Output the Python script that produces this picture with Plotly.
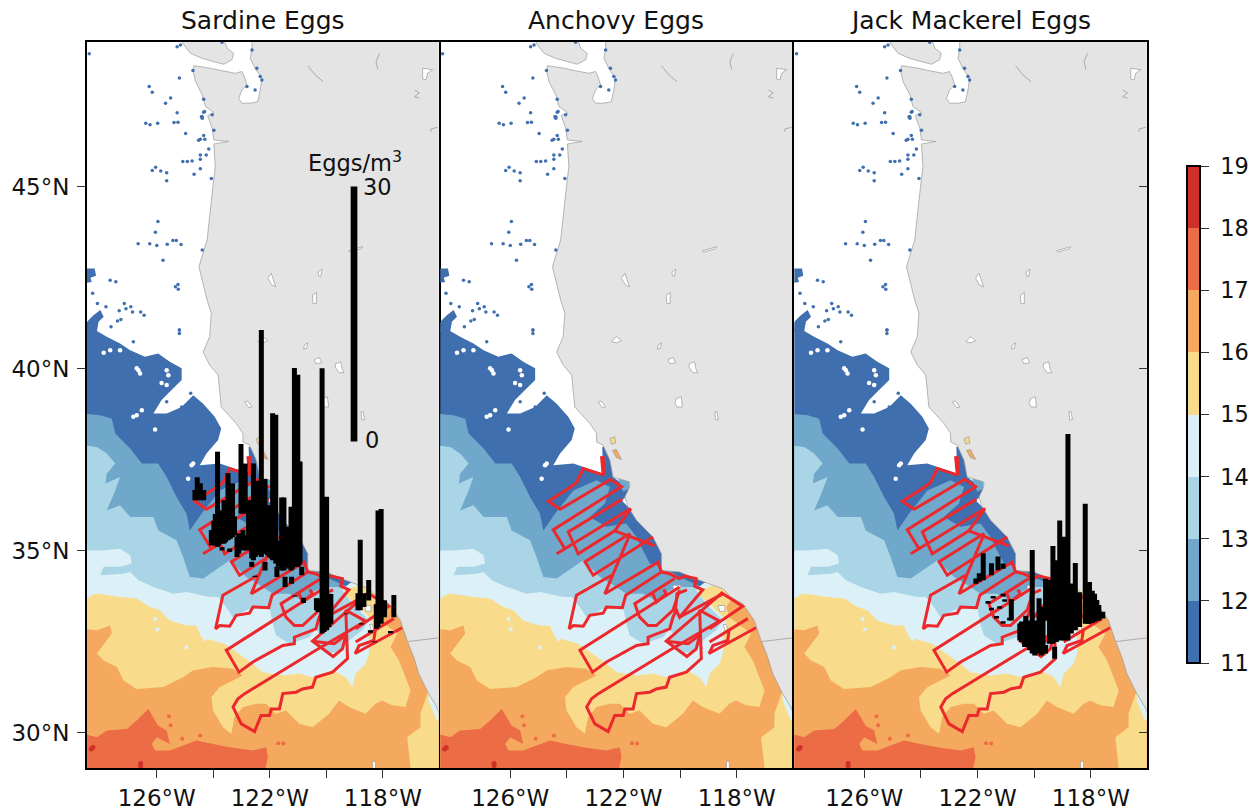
import plotly.graph_objects as go

# sst bands, lowest first, each one painted over the one before (lon, lat)
sst_levels = [11, 12, 13, 14, 15, 16, 17, 18, 19]
sst_labels = ['\u00a011', '\u00a012', '\u00a013', '\u00a014', '\u00a015', '\u00a016', '\u00a017', '\u00a018', '\u00a019']
sst_colors = ['#3f6fae', '#6fa8ca', '#a9d5e6', '#dcf1f7', '#f8dc8c', '#f4a95e', '#ec6c46', '#cf3128']

band_11 = [(-128.6, 41.10), (-128.18, 41.06), (-127.77, 40.88), (-127.30, 40.69), (-126.94, 40.51), (-126.42, 40.33),
           (-125.95, 40.42), (-125.54, 40.19), (-125.12, 40.01), (-125.12, 39.69), (-125.54, 39.37), (-125.83, 39.14),
           (-126.12, 38.77), (-125.65, 38.77), (-125.12, 38.95), (-124.71, 39.27), (-124.36, 39.04), (-123.95, 38.68),
           (-123.72, 38.36), (-123.83, 38.04), (-124.24, 37.67), (-124.48, 37.35), (-123.77, 37.40), (-123.25, 37.26),
           (-122.72, 37.12), (-122.75, 37.85), (-122.48, 37.85), (-122.42, 37.53), (-122.37, 37.03), (-121.72, 36.66),
           (-121.90, 36.48), (-122.07, 36.39), (-121.78, 36.16), (-120.96, 35.47), (-115.6, 32.73), (-115.6, 28.9), (-128.6, 28.9)]
band_12 = [(-128.6, 38.77), (-128.0, 38.72), (-127.59, 38.63), (-127.47, 38.22), (-126.94, 37.81), (-126.53, 37.40),
           (-125.95, 37.40), (-125.65, 37.03), (-125.30, 36.48), (-124.95, 36.02), (-124.83, 35.56), (-124.42, 36.02),
           (-123.77, 36.66), (-122.95, 36.94), (-122.48, 36.75), (-122.66, 36.30), (-123.19, 35.93), (-122.60, 35.66),
           (-121.90, 35.75), (-121.54, 35.38), (-121.31, 35.01), (-121.07, 34.65), (-120.60, 34.56), (-120.02, 34.28),
           (-115.6, 32.73), (-115.6, 28.9), (-128.6, 28.9)]
monterey_patch = [(-122.19, 36.98), (-121.80, 36.94), (-121.78, 36.71), (-122.01, 36.62)]
band_13 = [(-128.6, 37.90), (-128.12, 37.85), (-127.77, 37.67), (-127.47, 37.40), (-127.77, 37.12), (-127.82, 36.85),
           (-127.30, 37.03), (-127.47, 36.66), (-127.77, 36.11), (-127.30, 36.25), (-126.94, 35.93), (-126.12, 35.93),
           (-125.95, 35.56), (-125.30, 35.29), (-125.07, 34.83), (-124.83, 34.28), (-124.36, 34.24), (-123.77, 34.56),
           (-123.42, 34.74), (-122.83, 34.28), (-122.25, 34.01), (-121.90, 33.82), (-121.31, 33.82), (-120.84, 33.64),
           (-120.37, 33.92), (-120.02, 34.01), (-119.43, 34.01), (-119.08, 34.10), (-117.9, 34.56), (-115.6, 32.73),
           (-115.6, 28.9), (-128.6, 28.9)]
band_14 = [(-128.6, 35.01), (-128.0, 35.01), (-127.30, 35.06), (-126.94, 34.88), (-126.89, 34.65), (-127.30, 34.56),
           (-127.88, 34.56), (-128.0, 34.33), (-127.18, 34.37), (-126.94, 34.42), (-126.65, 34.19), (-126.12, 34.01),
           (-125.42, 33.82), (-124.95, 33.87), (-124.13, 33.73), (-123.83, 33.73), (-123.54, 33.46), (-123.31, 33.18),
           (-122.72, 33.41), (-122.01, 33.46), (-121.90, 33.00), (-121.78, 32.68), (-121.31, 32.45), (-120.60, 32.63),
           (-120.37, 32.86), (-120.25, 32.73), (-120.49, 32.54), (-119.90, 32.18), (-119.43, 32.27), (-119.20, 32.54),
           (-118.73, 32.82), (-118.49, 33.09), (-119.08, 33.55), (-119.43, 33.92), (-119.20, 34.10), (-117.9, 34.56),
           (-115.6, 32.73), (-115.6, 28.9), (-128.6, 28.9)]
band_15 = [(-128.6, 33.64), (-128.18, 33.82), (-127.88, 33.80), (-127.30, 33.73), (-126.71, 33.69), (-126.24, 33.46),
           (-125.89, 33.37), (-125.54, 33.09), (-124.95, 32.95), (-124.60, 32.95), (-124.42, 32.63), (-123.77, 32.50),
           (-123.60, 32.45), (-122.95, 32.09), (-122.60, 31.90), (-122.25, 31.67), (-121.54, 31.58), (-120.96, 31.63),
           (-120.49, 31.53), (-119.78, 31.72), (-119.31, 31.53), (-119.08, 31.26), (-118.96, 31.63), (-118.61, 31.90),
           (-118.49, 32.18), (-118.49, 32.73), (-118.37, 33.09), (-118.73, 33.37), (-119.31, 33.78), (-119.37, 33.92),
           (-118.61, 34.10), (-115.6, 32.73), (-115.6, 28.9), (-128.6, 28.9)]
band_16 = [(-128.6, 32.86), (-128.12, 32.82), (-127.65, 32.95), (-127.59, 32.73), (-128.12, 32.18), (-127.88, 31.99),
           (-127.41, 31.81), (-127.18, 31.44), (-126.71, 31.21), (-125.77, 31.26), (-125.07, 31.53), (-124.71, 31.72),
           (-124.01, 31.81), (-123.31, 31.76), (-122.95, 31.58), (-123.77, 31.26), (-124.07, 30.98), (-124.01, 30.62),
           (-123.66, 30.16), (-123.36, 29.98), (-123.25, 30.44), (-122.95, 30.71), (-122.48, 30.80), (-122.13, 30.80),
           (-121.78, 30.53), (-121.43, 30.62), (-120.96, 30.25), (-120.49, 30.16), (-119.90, 30.53), (-119.55, 30.89),
           (-119.20, 30.71), (-118.61, 30.53), (-118.26, 30.80), (-118.02, 30.89), (-117.67, 30.76), (-117.2, 30.71),
           (-117.02, 31.17), (-117.20, 31.53), (-117.43, 31.99), (-117.73, 32.36), (-117.49, 32.73), (-118.26, 33.18),
           (-118.37, 33.46), (-118.14, 33.73), (-115.6, 33.64), (-115.6, 28.9), (-128.6, 28.9)]
baja_yellow = [(-117.02, 28.9), (-117.02, 29.06), (-117.14, 29.88), (-116.67, 30.16), (-116.67, 30.53), (-116.5, 30.89),
               (-116.38, 31.17), (-115.6, 31.17), (-115.6, 28.9)]
baja_pale = [(-116.38, 31.17), (-116.38, 30.89), (-116.09, 30.34), (-115.6, 30.34), (-115.6, 31.35)]
band_17 = [(-128.6, 29.98), (-128.12, 29.88), (-127.77, 30.07), (-127.06, 30.11), (-126.71, 30.34), (-126.30, 30.66),
           (-125.95, 30.20), (-125.65, 30.07), (-125.54, 29.70), (-126.0, 29.88), (-126.18, 29.70), (-126.06, 29.52),
           (-125.54, 29.52), (-125.07, 29.66), (-124.60, 29.79), (-124.01, 29.70), (-123.42, 29.61), (-122.60, 29.52),
           (-122.13, 29.61), (-122.07, 29.33), (-122.19, 28.9), (-128.6, 28.9)]
spots_17 = [(-125.57, 30.46), (-125.51, 30.21), (-125.1, 29.84), (-124.46, 29.93), (-121.52, 29.71), (-121.7, 29.72)]
spots_18 = [(-126.57, 29.16), (-126.57, 29.10), (-128.26, 29.6), (-128.32, 29.56)]
spots_14 = [(-126.06, 33.13), (-125.98, 32.85), (-124.95, 32.35), (-124.30, 32.58)]

# sst specks off the main edges
blue_patch_a = [(-128.6, 41.15), (-128.41, 41.34), (-128.24, 41.47), (-128.0, 41.61), (-127.88, 41.43), (-128.06, 41.29), (-128.12, 41.02), (-128.6, 41.02)]
blue_patch_b = [(-128.6, 42.75), (-128.2, 42.75), (-128.15, 42.55), (-128.35, 42.5), (-128.3, 42.38), (-128.6, 42.35)]
blue_dots = [(-128.39, 48.65), (-126.27, 47.75), (-126.16, 47.59), (-125.51, 47.43), (-125.69, 47.29), (-125.20, 47.98),
             (-124.72, 48.19), (-124.34, 47.40), (-125.28, 47.03), (-124.31, 47.06), (-124.42, 46.92), (-124.39, 46.88),
             (-126.39, 46.74), (-126.24, 46.70), (-125.97, 46.74), (-125.39, 46.76), (-125.25, 46.77), (-124.98, 46.46),
             (-124.46, 46.30), (-124.34, 46.40), (-124.30, 46.30), (-124.52, 46.27), (-124.46, 45.87), (-124.46, 45.75),
             (-124.25, 45.87), (-124.16, 46.03), (-125.08, 45.69), (-124.92, 45.69), (-124.75, 45.70), (-126.16, 45.44),
             (-126.04, 45.53), (-125.86, 45.43), (-125.65, 45.38), (-125.65, 45.16), (-124.46, 45.49), (-124.68, 45.34),
             (-124.07, 45.22), (-125.96, 44.04), (-126.05, 43.75), (-126.66, 43.43), (-126.25, 43.43), (-126.0, 43.38),
             (-125.63, 43.42), (-125.43, 43.52), (-125.31, 43.52), (-125.14, 43.41), (-124.39, 43.26), (-125.78, 42.98),
             (-125.25, 42.31), (-125.24, 42.18), (-125.34, 42.25), (-125.20, 41.06), (-125.20, 40.97),
             (-127.65, 42.43), (-127.45, 42.39), (-128.27, 42.07), (-128.1, 41.79), (-127.8, 41.70), (-127.15, 41.79),
             (-127.09, 41.65), (-126.92, 41.70), (-126.86, 41.56), (-126.57, 41.56), (-126.45, 41.47), (-127.33, 41.59),
             (-127.27, 41.35), (-127.62, 41.15), (-127.39, 41.31), (-125.20, 41.06), (-126.83, 40.74), (-124.80, 39.33),
             (-124.95, 39.0), (-125.12, 38.95), (-125.65, 39.09), (-122.63, 48.75), (-122.46, 48.25), (-122.34, 48.02),
             (-122.28, 47.93), (-122.81, 47.75), (-122.52, 47.65), (-125.16, 48.89), (-125.28, 48.84), (-123.69, 48.96),
             (-124.04, 46.97), (-123.98, 46.55), (-124.34, 47.04), (-124.39, 46.92)]
white_dots = [(-126.71, 40.01), (-126.59, 39.87), (-126.65, 39.96), (-125.65, 39.96), (-125.59, 39.82), (-125.83, 39.61),
              (-125.65, 39.55), (-126.71, 38.72), (-126.53, 38.86), (-126.83, 38.68), (-127.65, 40.51), (-127.88, 40.44),
              (-127.30, 40.51), (-124.71, 37.40), (-124.77, 37.35), (-124.89, 36.98), (-125.59, 39.05), (-126.06, 38.33)]

# land and the lines on it
land = [(-115.6, 49.2), (-122.63, 49.07), (-122.63, 48.80), (-122.69, 48.52), (-122.52, 48.25), (-122.28, 47.97),
        (-122.34, 47.65), (-122.43, 47.33), (-122.69, 47.29), (-122.99, 47.29), (-123.10, 47.42), (-122.99, 47.65),
        (-122.81, 47.79), (-122.90, 48.02), (-122.99, 48.16), (-123.22, 48.11), (-123.69, 48.18), (-124.10, 48.25),
        (-124.69, 48.32), (-124.71, 48.16), (-124.63, 47.88), (-124.39, 47.52), (-124.28, 47.20), (-123.98, 47.03),
        (-124.20, 46.95), (-124.04, 46.60), (-123.98, 46.28), (-123.46, 46.24), (-123.98, 46.17), (-123.93, 45.55),
        (-124.04, 44.82), (-124.22, 43.53), (-124.51, 42.80), (-124.22, 41.89), (-124.07, 41.52), (-124.13, 40.88),
        (-124.36, 40.46), (-124.13, 40.10), (-123.83, 39.83), (-123.72, 38.95), (-123.19, 38.50), (-122.95, 38.22),
        (-122.95, 37.99), (-122.72, 37.90), (-122.48, 37.49), (-122.37, 37.03), (-121.78, 36.89), (-121.78, 36.76),
        (-121.95, 36.48), (-121.84, 36.21), (-121.54, 35.84), (-120.96, 35.38), (-120.66, 34.92), (-120.66, 34.46),
        (-120.02, 34.42), (-119.31, 34.19), (-118.49, 33.96), (-118.20, 33.73), (-117.79, 33.55), (-117.38, 33.09),
        (-117.14, 32.54), (-116.91, 32.09), (-116.73, 31.63), (-116.38, 31.08), (-116.09, 30.71), (-116.0, 30.53),
        (-115.6, 30.3)]
vancouver_island = [(-125.16, 49.07), (-125.04, 48.89), (-124.81, 48.66), (-124.39, 48.52), (-123.98, 48.43), (-123.63, 48.36),
                    (-123.34, 48.48), (-123.28, 48.66), (-123.51, 48.80), (-123.57, 48.94), (-123.75, 49.07)]
lakes = [
    [(-119.67, 40.14), (-119.49, 40.19), (-119.43, 39.96), (-119.37, 39.89), (-119.55, 39.89), (-119.69, 40.05)],
    [(-120.13, 39.18), (-119.96, 39.23), (-119.92, 38.95), (-120.11, 38.95), (-120.18, 39.05)],
    [(-118.77, 38.82), (-118.70, 38.82), (-118.65, 38.60), (-118.75, 38.60)],
    [(-120.43, 40.25), (-120.25, 40.31), (-120.16, 40.16), (-120.37, 40.14)],
    [(-120.78, 40.65), (-120.66, 40.71), (-120.70, 40.56), (-120.80, 40.54)],
    [(-122.89, 39.09), (-122.78, 39.11), (-122.63, 38.95), (-122.74, 38.93)],
    [(-122.42, 40.74), (-122.25, 40.88), (-122.07, 40.77), (-122.25, 40.71)],
    [(-122.07, 42.48), (-121.95, 42.62), (-121.79, 42.25), (-121.93, 42.30)],
    [(-120.29, 42.66), (-120.15, 42.73), (-120.20, 42.53), (-120.27, 42.55)],
    [(-120.49, 42.02), (-120.35, 42.09), (-120.35, 41.79), (-120.47, 41.79)],
    [(-119.21, 43.24), (-118.71, 43.35), (-118.77, 43.29), (-119.17, 43.20)],
    [(-116.59, 48.25), (-116.24, 48.21), (-116.42, 48.11), (-116.47, 47.93), (-116.59, 47.95)],
    [(-118.66, 33.50), (-118.42, 33.50), (-118.42, 33.34), (-118.60, 33.34)],
    [(-118.48, 32.98), (-118.38, 32.98), (-118.30, 32.80), (-118.40, 32.80)],
    [(-120.25, 34.05), (-119.98, 34.06), (-119.98, 33.95), (-120.25, 33.95)],
    [(-118.36, 29.22), (-118.26, 29.22), (-118.26, 29.0), (-118.36, 29.0)],
]
rivers = [
    [(-120.66, 48.32), (-120.40, 48.07), (-120.11, 47.88)],
    [(-118.12, 48.66), (-118.24, 48.43), (-118.18, 48.22)],
    [(-116.88, 47.66), (-116.71, 47.57), (-116.88, 47.47), (-116.71, 47.43)],
    [(-116.06, 46.63), (-116.3, 46.58), (-116.3, 46.51)],
    [(-117.11, 32.51), (-116.03, 32.61), (-115.6, 32.65)],
]
bay_north = [(-122.48, 38.08), (-122.31, 38.13), (-122.27, 37.96), (-122.42, 37.93)]
bay_south = [(-122.39, 37.76), (-122.25, 37.78), (-122.07, 37.51), (-122.25, 37.56)]

# ship track, None breaks the line
track_start = [(-122.75, 37.60), (-122.69, 37.08)]
track = [(-122.69, 37.08), (-123.42, 37.26), (-123.66, 36.87), (-123.95, 36.71), (-124.65, 36.36),
         (-124.24, 36.14), (-122.46, 36.96), (-122.07, 36.76), (-124.48, 35.58), (-124.07, 35.06), (-124.36, 34.92),
         (-121.74, 36.16), (-122.31, 35.55), (-123.60, 34.92), (-123.95, 35.52), (-122.04, 36.42), None,
         (-122.31, 35.55), (-121.90, 35.43), (-120.90, 35.14), None,
         (-120.96, 35.38), (-123.07, 34.33), (-123.36, 34.70), (-121.78, 35.47), (-121.84, 35.33), (-122.66, 33.82),
         (-120.78, 34.69), (-120.66, 34.42), (-121.92, 33.78), (-122.04, 33.44), (-122.60, 33.46), (-122.72, 33.29),
         (-123.19, 33.23), (-123.42, 32.93), (-123.77, 32.95), (-123.92, 32.86), (-123.66, 33.78), (-122.42, 34.33), None,
         (-120.66, 34.42), (-120.37, 34.37), (-120.02, 34.24), (-119.84, 34.31), (-119.43, 34.24), (-119.49, 34.03),
         (-119.20, 33.93), (-120.02, 33.18), (-120.16, 33.41), (-120.11, 33.82), (-119.76, 33.93), None,
         (-120.19, 34.24), (-121.60, 33.55), (-121.43, 33.18), (-121.13, 32.95), (-120.84, 32.95), (-120.25, 33.37),
         (-120.02, 33.92), None,
         (-120.96, 33.82), (-120.84, 33.59), (-120.49, 33.82), (-120.58, 33.94), None,
         (-120.02, 34.01), (-123.54, 32.27), (-123.09, 31.67), (-122.60, 31.95), (-121.54, 32.40), (-121.13, 32.45),
         (-121.13, 32.63), (-120.37, 32.86), (-120.25, 33.18), (-120.11, 33.41), None,
         (-118.49, 33.87), (-120.49, 32.52), (-119.76, 32.10), (-119.43, 32.31), (-119.31, 32.68), (-119.72, 32.45),
         (-120.49, 32.52), None,
         (-118.61, 33.07), (-119.31, 33.37), (-119.25, 32.04), (-119.78, 31.67), (-120.37, 31.53), (-120.49, 31.26),
         (-120.84, 31.21), (-121.07, 31.12), (-121.54, 31.08), (-121.66, 30.66), (-121.95, 30.66), (-122.01, 30.48),
         (-122.31, 30.48), (-122.54, 30.04), (-123.01, 30.25), (-123.30, 30.71), (-123.13, 30.94), (-122.89, 31.08),
         (-120.37, 32.27), (-118.61, 33.07), None,
         (-120.02, 33.18), (-118.49, 33.82), (-117.79, 33.48), (-118.96, 32.86), None,
         (-118.96, 32.50), (-117.61, 33.14), None,
         (-118.26, 32.86), (-118.32, 32.54), (-118.84, 32.40), (-118.98, 32.18), (-117.32, 32.89)]

# egg columns: station lon, station lat, eggs per m3
sardine_lon = [-124.57, -124.46, -124.65, -124.34, -123.85, -123.69, -123.93, -124.07, -123.48, -123.32, -123.62, -123.02,
               -122.87, -123.10, -122.95, -122.75, -122.58, -122.46, -122.30, -122.17, -122.02, -121.90, -121.79, -121.58,
               -121.50, -121.40, -121.13, -121.01, -121.25, -120.93, -120.15, -119.99, -119.84, -120.35, -118.80, -118.50,
               -118.88, -118.67, -118.17, -118.06, -117.94, -117.61, -123.69, -123.42, -122.17, -121.75, -121.46, -121.23,
               -120.87, -120.81, -121.11, -119.29, -118.76, -118.44, -118.29, -117.73, -122.64, -122.52,
               -123.98, -123.81, -123.57, -123.40, -123.25, -123.16, -122.81, -122.64, -122.52, -122.38, -122.22, -122.08,
               -121.95, -121.70, -121.32, -121.20, -121.07, -120.97, -120.29, -120.08, -119.91, -118.23]
sardine_lat = [36.39, 36.39, 36.39, 36.39, 35.11, 35.20, 35.15, 35.15, 35.29, 35.38, 35.20, 36.02,
               36.02, 34.92, 35.01, 35.06, 34.74, 34.92, 34.83, 34.92, 34.83, 34.74, 34.65, 34.46,
               34.46, 34.56, 34.56, 34.56, 34.46, 34.65, 32.73, 32.82, 33.00, 33.37, 33.37, 33.64,
               33.37, 33.46, 32.91, 33.00, 33.18, 33.18, 35.01, 34.97, 34.46, 34.28, 34.01, 34.10,
               34.33, 33.57, 33.75, 33.26, 32.98, 32.75, 32.49, 32.74, 34.56, 34.28,
               35.15, 35.15, 35.24, 35.33, 35.43, 34.83, 35.01, 34.79, 34.83, 34.88, 34.92, 34.88,
               34.79, 34.56, 34.51, 34.51, 34.56, 34.60, 33.32, 32.77, 32.91, 32.86]
sardine_eggs = [2.7, 2.0, 1.2, 1.2, 11.2, 3.9, 3.7, 1.8, 7.9, 6.3, 5.1, 8.2,
                5.9, 2.4, 2.4, 5.7, 11.4, 8.6, 26.7, 8.8, 6.1, 17.3, 17.5, 8.6,
                8.6, 4.7, 23.4, 22.6, 7.5, 12.0, 31.2, 15.7, 3.5, 1.4, 8.3, 2.4,
                2.0, 1.6, 13.7, 13.5, 2.0, 2.6, 0.4, 0.4, 1.0, 1.2, 1.2, 0.8,
                1.0, 0.6, 0.1, 0.1, 0.15, 0.3, 0.1, 0.25, 0.6, 0.15,
                2.9, 3.7, 3.3, 3.3, 2.2, 2.4, 1.8, 6.9, 8.2, 7.3, 7.9, 4.9,
                2.9, 3.1, 4.1, 6.5, 6.3, 6.1, 1.6, 15.9, 3.9, 2.9]
jack_lon = [-118.81, -118.20, -119.10, -119.34, -118.96, -118.55, -119.60, -120.07, -119.83, -120.30, -120.51, -120.16,
            -119.69, -120.81, -121.28, -121.80, -121.51, -121.94, -122.06, -121.10, -118.40, -118.05, -117.87, -117.72,
            -117.58, -119.28, -119.60, -120.34, -121.63, -121.51, -121.33, -121.10, -120.87, -121.45, -121.10, -121.04,
            -121.22, -119.46, -119.22, -118.69, -118.11, -117.95, -117.79, -120.45, -120.25, -119.98, -119.75]
jack_lat = [32.54, 33.00, 32.54, 32.45, 32.54, 32.82, 33.09, 32.18, 32.18, 32.45, 32.54, 32.27,
            32.18, 33.09, 34.47, 34.19, 34.33, 34.15, 34.10, 34.51, 32.91, 33.00, 33.05, 33.09,
            33.14, 32.04, 32.18, 32.36, 33.55, 33.37, 33.14, 33.00, 33.09, 33.69, 33.75, 33.60,
            33.41, 32.45, 32.50, 32.73, 33.00, 33.02, 33.09, 32.50, 32.36, 32.13, 32.13]
jack_eggs = [24.3, 14.1, 14.1, 11.5, 12.2, 7.9, 4.9, 12.2, 6.5, 3.3, 2.0, 3.5,
             4.3, 2.5, 1.6, 3.2, 1.4, 1.0, 0.6, 0.6, 4.1, 4.9, 3.3, 1.8,
             0.8, 1.4, 1.0, 2.2, 0.3, 0.3, 0.3, 0.3, 0.3, 0.3, 0.3, 0.3,
             0.3, 7.5, 9.6, 5.9, 4.7, 3.8, 2.4, 2.4, 3.1, 4.1, 5.7]

panel_titles = ['Sardine Eggs', 'Anchovy Eggs', 'Jack Mackerel Eggs']
lon_ticks = [-126, -122, -118]
lon_labels = ['126°W', '122°W', '118°W']
lon_minor = [-124, -120]
lat_ticks = [30, 35, 40, 45]
lat_labels = ['30°N', '35°N', '40°N', '45°N']

DEG_PER_EGG = 7 / 30  # 30 eggs/m3 is drawn 7 degrees of latitude tall
LAND = '#e4e4e4'
COAST = '#9a9a9a'
RED = '#ec282d'
PAGE = 8  # browser body margin
W, H = 1260 - PAGE, 812 - PAGE


def px_x(px):
    return (px - PAGE) / W


def px_y(py):
    return 1 - (py - PAGE) / H


def poly(pts, color, n, line=None):
    xs = [p[0] for p in pts] + [pts[0][0]]
    ys = [p[1] for p in pts] + [pts[0][1]]
    return go.Scatter(x=xs, y=ys, mode='lines', fill='toself', fillcolor=color,
                      line=dict(width=0.7 if line else 0, color=line or color),
                      xaxis='x' + n, yaxis='y' + n, hoverinfo='skip', showlegend=False)


def path(pts, color, width, n):
    xs = [p[0] if p else None for p in pts]
    ys = [p[1] if p else None for p in pts]
    return go.Scatter(x=xs, y=ys, mode='lines', line=dict(color=color, width=width),
                      xaxis='x' + n, yaxis='y' + n, hoverinfo='skip', showlegend=False)


def dots(pts, color, size, n):
    return go.Scatter(x=[p[0] for p in pts], y=[p[1] for p in pts], mode='markers',
                      marker=dict(color=color, size=size, line=dict(width=0)),
                      xaxis='x' + n, yaxis='y' + n, hoverinfo='skip', showlegend=False)


def columns(lons, lats, eggs, n, width=5):
    xs, ys = [], []
    for lon, lat, e in zip(lons, lats, eggs):
        xs += [lon, lon, None]
        ys += [lat, lat + e * DEG_PER_EGG, None]
    return go.Scatter(x=xs, y=ys, mode='lines', line=dict(color='black', width=width),
                      xaxis='x' + n, yaxis='y' + n, hoverinfo='skip', showlegend=False)


fig = go.Figure()

for n in ['', '2', '3']:
    fig.add_trace(poly(band_11, sst_colors[0], n))
    fig.add_trace(poly(blue_patch_a, sst_colors[0], n))
    fig.add_trace(poly(blue_patch_b, sst_colors[0], n))
    fig.add_trace(dots(white_dots, 'white', 4.5, n))
    fig.add_trace(poly(band_12, sst_colors[1], n))
    fig.add_trace(poly(monterey_patch, sst_colors[1], n))
    fig.add_trace(poly(band_13, sst_colors[2], n))
    fig.add_trace(poly(band_14, sst_colors[3], n))
    fig.add_trace(poly(band_15, sst_colors[4], n))
    fig.add_trace(dots(spots_14, sst_colors[3], 4, n))
    fig.add_trace(poly(band_16, sst_colors[5], n))
    fig.add_trace(poly(baja_yellow, sst_colors[4], n))
    fig.add_trace(poly(baja_pale, sst_colors[3], n))
    fig.add_trace(poly(band_17, sst_colors[6], n))
    fig.add_trace(dots(spots_17, sst_colors[6], 4, n))
    fig.add_trace(dots(spots_18, sst_colors[7], 5, n))
    fig.add_trace(poly(land, LAND, n, COAST))
    fig.add_trace(poly(vancouver_island, LAND, n, COAST))
    for lake in lakes:
        fig.add_trace(poly(lake, 'white', n, COAST))
    for river in rivers:
        fig.add_trace(path(river, COAST, 0.8, n))
    fig.add_trace(poly(bay_north, sst_colors[4], n, COAST))
    fig.add_trace(poly(bay_south, sst_colors[5], n, COAST))
    fig.add_trace(dots(blue_dots, sst_colors[0], 3.5, n))
    fig.add_trace(path(track, RED, 3, n))
    fig.add_trace(path(track_start, RED, 4.5, n))

fig.add_trace(columns(sardine_lon, sardine_lat, sardine_eggs, ''))
fig.add_trace(columns([-119.02], [38.0], [30], '', width=6.7))
fig.add_trace(columns(jack_lon, jack_lat, jack_eggs, '3'))

# colorbar only, the point sits off the axes
stepped = []
for i, c in enumerate(sst_colors):
    stepped += [[i / 8, c], [(i + 1) / 8, c]]
fig.add_trace(go.Scatter(x=[-140], y=[20], mode='markers', hoverinfo='skip', showlegend=False,
                         marker=dict(color=[11], cmin=11, cmax=19, colorscale=stepped, showscale=True,
                                     colorbar=dict(x=px_x(1187), xanchor='left', xpad=0, ypad=0,
                                                   y=px_y(663), yanchor='bottom', len=497 / H,
                                                   thickness=13, outlinewidth=2, outlinecolor='black',
                                                   ticks='outside', ticklen=8, tickwidth=1, tickcolor='#333',
                                                   tickvals=sst_levels, ticktext=sst_labels,
                                                   tickfont=dict(size=22.5, color='#111')))))

axis = dict(showgrid=False, zeroline=False, showline=True, linecolor='black', linewidth=2, mirror=True)
x_common = dict(axis, range=[-128.47, -116.03], tickmode='array', tickvals=lon_ticks, ticktext=lon_labels,
                ticks='outside', ticklen=8, tickwidth=1, tickcolor='#333',
                minor=dict(tickmode='array', tickvals=lon_minor, ticks='outside', ticklen=8, tickwidth=1, tickcolor='#333'))
y_common = dict(axis, range=[29.03, 48.97], tickmode='array', tickvals=lat_ticks, ticktext=lat_labels,
                ticklen=8, tickwidth=1, tickcolor='#333')

panels = [(87, 438.5), (440.3, 792.5), (794.3, 1146.7)]
y_domain = [px_y(768.3), px_y(42)]
fig.update_layout(
    width=W, height=H, autosize=False, margin=dict(l=0, r=0, t=0, b=0),
    paper_bgcolor='white', plot_bgcolor='white',
    font=dict(family='DejaVu Sans', size=23, color='#111'),
    xaxis=dict(x_common, domain=[px_x(panels[0][0]), px_x(panels[0][1])], anchor='y'),
    xaxis2=dict(x_common, domain=[px_x(panels[1][0]), px_x(panels[1][1])], anchor='y2'),
    xaxis3=dict(x_common, domain=[px_x(panels[2][0]), px_x(panels[2][1])], anchor='y3'),
    yaxis=dict(y_common, domain=y_domain, anchor='x', ticks='outside', ticklabelstandoff=3),
    yaxis2=dict(y_common, domain=y_domain, anchor='x2', ticks='', showticklabels=False, showline=False),
    yaxis3=dict(y_common, domain=y_domain, anchor='x3', side='right', ticks='inside', showticklabels=False),
)

for t, (a, b) in zip(panel_titles, panels):
    fig.add_annotation(text=t, xref='paper', yref='paper', x=px_x((a + b) / 2), y=px_y(21), xanchor='center',
                       yanchor='middle', showarrow=False, font=dict(size=25))
label_font = dict(size=22.5)
fig.add_annotation(text='Eggs/m<sup>3</sup>', x=-119.0, y=45.7, xref='x', yref='y', showarrow=False, font=label_font)
fig.add_annotation(text='30', x=-118.19, y=45.0, xref='x', yref='y', showarrow=False, font=label_font)
fig.add_annotation(text='0', x=-118.4, y=38.04, xref='x', yref='y', showarrow=False, font=label_font)

fig.write_html("out.html")
